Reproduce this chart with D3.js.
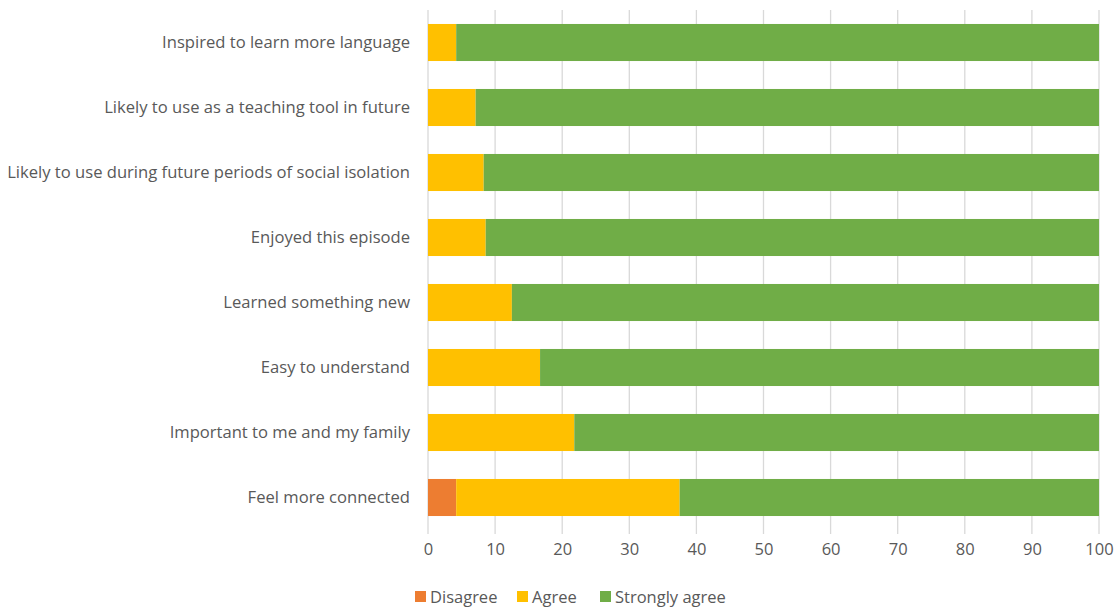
<!DOCTYPE html>
<html><head><meta charset="utf-8">
<script src="https://cdn.jsdelivr.net/npm/d3@7"></script>
<style>body{margin:0;background:#fff;} text{font-family:"Open Sans","Liberation Sans",sans-serif;fill:#595959;}</style>
</head><body><svg id="c" width="1115" height="607"></svg>
<script>
const categories = ["Inspired to learn more language","Likely to use as a teaching tool in future","Likely to use during future periods of social isolation","Enjoyed this episode","Learned something new","Easy to understand","Important to me and my family","Feel more connected"];
const disagree = [0,0,0,0,0,0,0,4.2];
const agree = [4.2,7.1,8.3,8.6,12.5,16.7,21.8,33.3];
const stronglyAgree = categories.map((c,i)=>100-disagree[i]-agree[i]);
const seriesNames = ["Disagree","Agree","Strongly agree"];
const colors = ["#ED7D31","#FFC000","#70AD47"];
const xTicks = [0,10,20,30,40,50,60,70,80,90,100];

const svg = d3.select("#c");
const m = {left:428, right:1099, top:10, bottom:530};
const x = d3.scaleLinear().domain([0,100]).range([m.left,m.right]);
const y = d3.scaleBand().domain(categories).range([m.top,m.bottom]).paddingInner(0.43).paddingOuter(0.215);

svg.append("g").selectAll("line").data(xTicks).join("line")
  .attr("x1",d=>x(d)).attr("x2",d=>x(d)).attr("y1",m.top).attr("y2",m.bottom+4)
  .attr("stroke","#d9d9d9").attr("stroke-width",1.3);

const data = categories.map((c,i)=>({cat:c,Disagree:disagree[i],Agree:agree[i],"Strongly agree":stronglyAgree[i]}));
const stack = d3.stack().keys(seriesNames)(data);
svg.append("g").selectAll("g").data(stack).join("g").attr("fill",(d,i)=>colors[i])
  .selectAll("rect").data(d=>d).join("rect")
  .attr("x",d=>x(d[0])).attr("width",d=>x(d[1])-x(d[0]))
  .attr("y",d=>y(d.data.cat)).attr("height",y.bandwidth());

const xa = svg.append("g").attr("transform",`translate(0,${m.bottom})`)
  .call(d3.axisBottom(x).tickValues(xTicks).tickSize(0).tickPadding(13));
xa.select(".domain").remove();
xa.selectAll("text").style("font-size","16.5px").attr("fill","#595959").style("font-family","'Open Sans',sans-serif");

const ya = svg.append("g").attr("transform",`translate(${m.left},0)`)
  .call(d3.axisLeft(y).tickSize(0).tickPadding(18));
ya.select(".domain").remove();
ya.selectAll("text").style("font-size","16.6px").attr("fill","#595959").style("font-family","'Open Sans',sans-serif");

const legX = [415,517,600];
const lg = svg.append("g");
seriesNames.forEach((s,i)=>{
  lg.append("rect").attr("x",legX[i]).attr("y",591).attr("width",11).attr("height",11).attr("fill",colors[i]);
  lg.append("text").attr("x",legX[i]+15).attr("y",603).style("font-size","16.5px").text(s);
});
</script></body></html>
